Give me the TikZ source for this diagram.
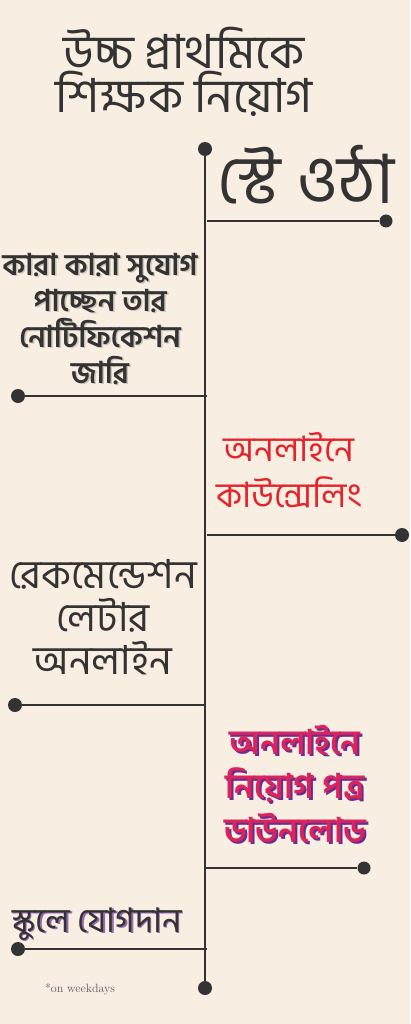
\documentclass[tikz,border=0pt]{standalone}
\usepackage{fontspec}
\usepackage{xcolor}
\newfontfamily\bn[Script=Bengali]{Hind Siliguri}
\definecolor{bg}{HTML}{F8EEE1}
\definecolor{ink}{HTML}{333333}
\definecolor{redtext}{HTML}{E5232B}
\definecolor{pinktext}{HTML}{D9245E}
\definecolor{shade}{HTML}{6B2C8F}

\begin{document}
\begin{tikzpicture}[x=1pt,y=-1pt,
    dot/.style={circle,fill=ink,inner sep=0pt,minimum size=14pt},
    stem/.style={draw=ink,line width=2.6pt},
    txt/.style={text=ink,align=center,inner sep=0pt},
    bnsize/.style 2 args={font=\bn\fontsize{#1}{#2}\selectfont},
    bnbold/.style 2 args={font=\bn\bfseries\fontsize{#1}{#2}\selectfont}
  ]
  \fill[bg] (0,0) rectangle (410,1024);
  \useasboundingbox (0,0) rectangle (410,1024);

  \node[txt,bnsize={47}{42}] (title) at (184,72) {উচ্চ প্রাথমিকে\\শিক্ষক নিয়োগ};

  % spine
  \node[dot] (top) at (205,149) {};
  \node[dot] (bot) at (205,988) {};
  \draw[stem] (top) -- (bot);

  % branches
  \coordinate (s1) at (207,221);
  \coordinate (s2) at (207,396);
  \coordinate (s3) at (207,535);
  \coordinate (s4) at (205,705);
  \coordinate (s5) at (205,868);
  \coordinate (s6) at (207,949);
  \node[dot,minimum size=13pt] (d1) at (386,221) {};
  \node[dot] (d2) at (18,396) {};
  \node[dot] (d3) at (402,535) {};
  \node[dot] (d4) at (15,705) {};
  \node[dot,minimum size=13pt] (d5) at (364,868) {};
  \node[dot] (d6) at (18,949) {};
  \foreach \i in {1,...,6}
    \draw[stem] (s\i) -- (d\i);

  \node[txt,bnsize={68}{50}] (rise) at (306,175) {স্টে ওঠা};
  \node[txt,opacity=.22,bnbold={30}{36}] at (101.5,320.5) {কারা কারা সুযোগ\\পাচ্ছেন তার\\নোটিফিকেশন\\জারি};
  \node[txt,bnbold={30}{36}] (notice) at (100,319) {কারা কারা সুযোগ\\পাচ্ছেন তার\\নোটিফিকেশন\\জারি};
  \node[txt,text=redtext,bnsize={35}{46}] (counsel) at (289,470) {অনলাইনে\\কাউন্সেলিং};
  \node[txt,bnsize={40}{43}] (letter) at (103,617) {রেকমেন্ডেশন\\লেটার\\অনলাইন};
  \node[txt,text=shade,bnbold={34}{44}] at (297,786) {অনলাইনে\\নিয়োগ পত্র\\ডাউনলোড};
  \node[txt,text=pinktext,bnbold={34}{44}] (appoint) at (295,784) {অনলাইনে\\নিয়োগ পত্র\\ডাউনলোড};
  \node[txt,text=shade!70,bnsize={34}{30}] at (98.5,925.5) {স্কুলে যোগদান};
  \node[txt,bnsize={34}{30}] (join) at (97,924) {স্কুলে যোগদান};
  \node[txt,text=ink!80,font=\fontsize{12}{13}\selectfont] (note) at (80,989) {*on weekdays};
\end{tikzpicture}
\end{document}
